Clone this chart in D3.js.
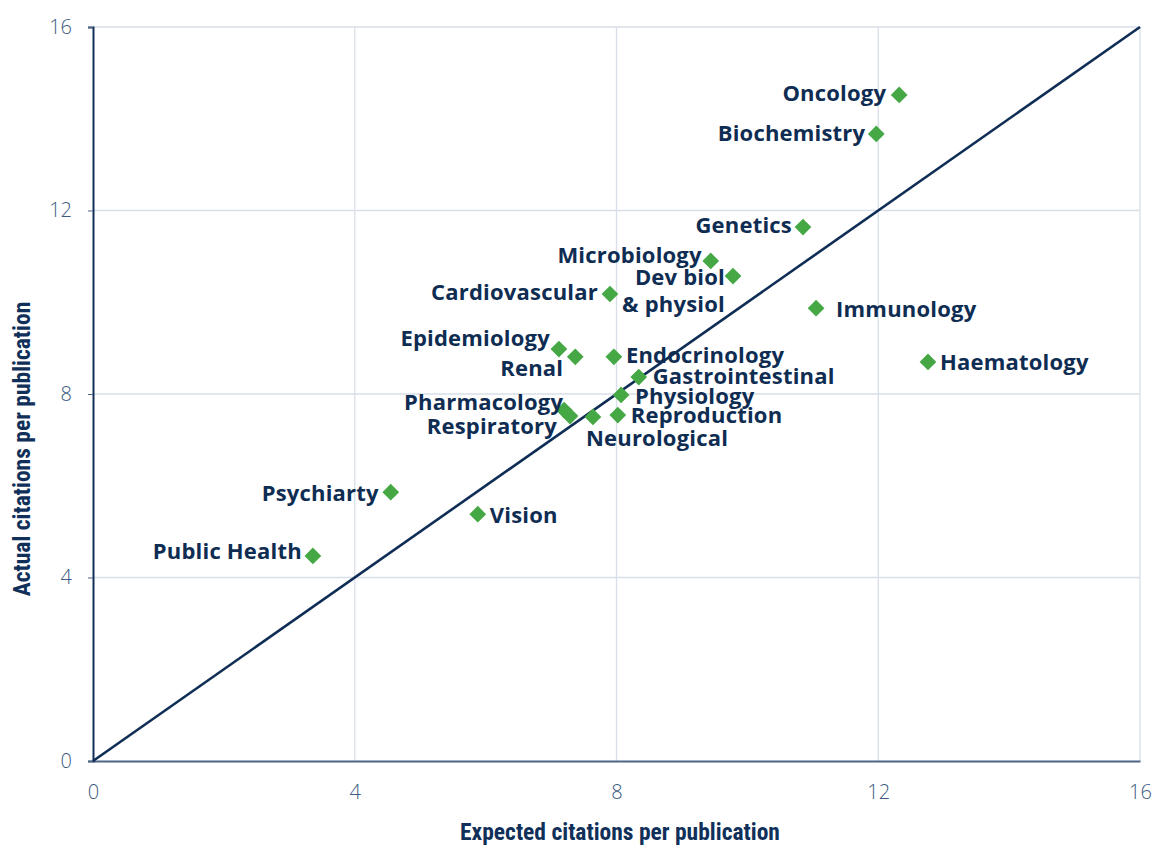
<!DOCTYPE html>
<html>
<head>
<meta charset="utf-8">
<script src="https://cdn.jsdelivr.net/npm/d3@7"></script>
<style>
  body { margin: 0; background: #fff; }
  svg { display: block; }
</style>
</head>
<body>
<div id="chart"></div>
<script>
/*****************************************************
 * DATA
 *****************************************************/
const fields = ["Oncology", "Biochemistry", "Genetics", "Microbiology", "Dev biol\n& physiol",
  "Cardiovascular", "Immunology", "Epidemiology", "Renal", "Endocrinology", "Haematology",
  "Gastrointestinal", "Physiology", "Pharmacology", "Respiratory", "Neurological",
  "Reproduction", "Psychiarty", "Vision", "Public Health"];
const expected = [12.32, 11.97, 10.85, 9.44, 9.78, 7.90, 11.05, 7.12, 7.37, 7.96, 12.76,
  8.34, 8.07, 7.20, 7.29, 7.64, 8.02, 4.55, 5.88, 3.36];
const actual = [14.52, 13.67, 11.64, 10.90, 10.57, 10.18, 9.87, 8.98, 8.81, 8.81, 8.70,
  8.37, 7.98, 7.65, 7.52, 7.50, 7.54, 5.86, 5.38, 4.47];
const ticks = [0, 4, 8, 12, 16];

// label placement: anchor, dx, dy (pixels from the marker)
const labelPlace = {
  "Oncology": ["end", -13, -2],
  "Biochemistry": ["end", -11, -1],
  "Genetics": ["end", -11, -2],
  "Microbiology": ["end", -9, -6],
  "Dev biol\n& physiol": ["end", -8, 1],
  "Cardiovascular": ["end", -12, -2],
  "Immunology": ["start", 20, 1],
  "Epidemiology": ["end", -9, -11],
  "Renal": ["end", -12, 11],
  "Endocrinology": ["start", 12, -2],
  "Haematology": ["start", 12, 0],
  "Gastrointestinal": ["start", 14, -1],
  "Physiology": ["start", 14, 1],
  "Pharmacology": ["end", -1, -8],
  "Respiratory": ["end", -13, 10],
  "Neurological": ["start", -7, 21],
  "Reproduction": ["start", 13, 0],
  "Psychiarty": ["end", -12, 1],
  "Vision": ["start", 12, 1],
  "Public Health": ["end", -11, -5]
};

const width = 1159, height = 848;
const margin = { top: 27, right: 19, bottom: 87, left: 93 };

const svg = d3.select("#chart").append("svg")
  .attr("width", width)
  .attr("height", height);

const x = d3.scaleLinear().domain([0, 16]).range([margin.left, width - margin.right]);
const y = d3.scaleLinear().domain([0, 16]).range([height - margin.bottom, margin.top]);

/*****************************************************
 * GRID
 *****************************************************/
svg.append("g")
  .selectAll("line")
  .data(ticks.slice(1))
  .enter().append("line")
  .attr("x1", d => x(d)).attr("x2", d => x(d))
  .attr("y1", y(0)).attr("y2", y(16))
  .attr("stroke", "#d9dfe9").attr("stroke-width", 1.3);

svg.append("g")
  .selectAll("line")
  .data(ticks.slice(1))
  .enter().append("line")
  .attr("x1", x(0)).attr("x2", x(16))
  .attr("y1", d => y(d)).attr("y2", d => y(d))
  .attr("stroke", "#d9dfe9").attr("stroke-width", 1.3);

/*****************************************************
 * AXES
 *****************************************************/
const xAxis = svg.append("g")
  .attr("transform", `translate(0,${y(0)})`)
  .call(d3.axisBottom(x).tickValues(ticks).tickSize(0).tickPadding(24));
xAxis.select(".domain").attr("stroke", "#4c6587").attr("stroke-width", 2);

const yAxis = svg.append("g")
  .attr("transform", `translate(${x(0)},0)`)
  .call(d3.axisLeft(y).tickValues(ticks).tickSize(5).tickPadding(16));
yAxis.select(".domain").attr("stroke", "#10305a").attr("stroke-width", 2);
yAxis.selectAll(".tick line").attr("stroke", "#4c6587");

svg.selectAll(".tick text")
  .attr("font-family", "'Open Sans', sans-serif")
  .attr("font-weight", 300)
  .attr("font-size", "20px")
  .attr("fill", "#3d5a82");

/*****************************************************
 * DIAGONAL
 *****************************************************/
svg.append("line")
  .attr("x1", x(0)).attr("y1", y(0))
  .attr("x2", x(16)).attr("y2", y(16))
  .attr("stroke", "#0f2d55")
  .attr("stroke-width", 2.6);

/*****************************************************
 * POINTS
 *****************************************************/
const pts = fields.map((f, i) => ({ name: f, ex: expected[i], ac: actual[i] }));

svg.append("g")
  .selectAll("path")
  .data(pts)
  .enter().append("path")
  .attr("d", d3.symbol().type(d3.symbolSquare).size(140))
  .attr("transform", d => `translate(${x(d.ex)},${y(d.ac)}) rotate(45)`)
  .attr("fill", "#45a845");

/*****************************************************
 * LABELS
 *****************************************************/
svg.append("g")
  .selectAll("text")
  .data(pts)
  .enter().append("text")
  .attr("font-family", "'Open Sans', sans-serif")
  .attr("font-weight", 700)
  .attr("font-size", "22px")
  .attr("letter-spacing", "0.2px")
  .attr("fill", "#0f2d52")
  .attr("text-anchor", d => labelPlace[d.name][0])
  .each(function(d) {
    const p = labelPlace[d.name];
    const lines = d.name.split("\n");
    lines.forEach((ln, k) => {
      d3.select(this).append("tspan")
        .attr("x", x(d.ex) + p[1])
        .attr("y", y(d.ac) + p[2] + k * 27)
        .attr("dy", "0.35em")
        .text(ln);
    });
  });

/*****************************************************
 * AXIS TITLES
 *****************************************************/
svg.append("text")
  .attr("x", 620)
  .attr("y", 840)
  .attr("text-anchor", "middle")
  .attr("font-family", "'Liberation Sans Narrow', 'Roboto Condensed', 'Liberation Sans', sans-serif")
  .attr("font-weight", 700)
  .attr("font-size", "23.5px")
  .attr("fill", "#10305a")
  .text("Expected citations per publication");

svg.append("text")
  .attr("transform", "translate(30,449) rotate(-90)")
  .attr("text-anchor", "middle")
  .attr("font-family", "'Liberation Sans Narrow', 'Roboto Condensed', 'Liberation Sans', sans-serif")
  .attr("font-weight", 700)
  .attr("font-size", "23.5px")
  .attr("fill", "#10305a")
  .text("Actual citations per publication");
</script>
</body>
</html>
